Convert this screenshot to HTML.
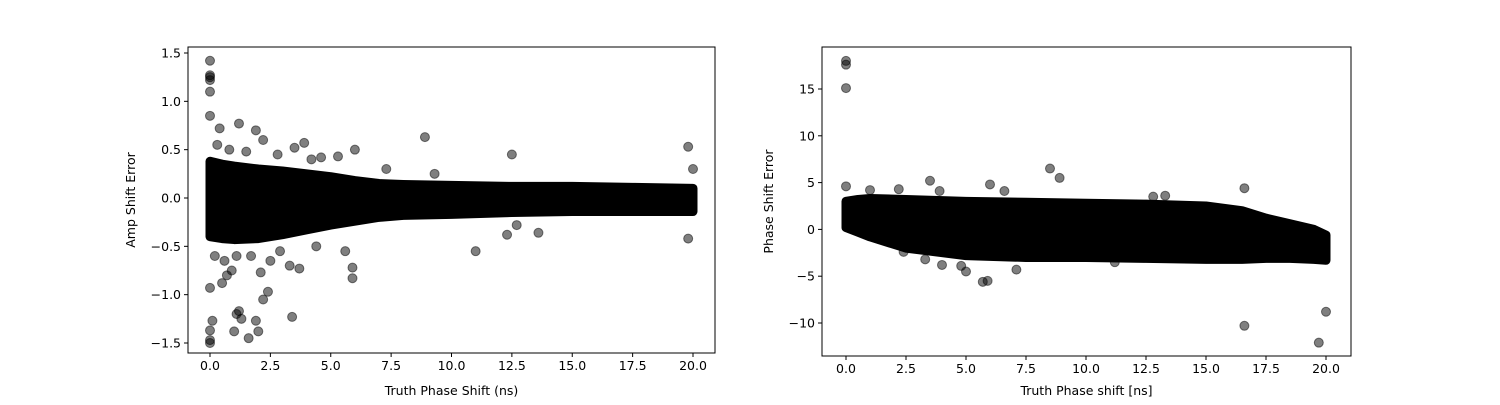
<!DOCTYPE html>
<html><head><meta charset="utf-8"><style>
html,body{margin:0;padding:0;background:#fff;}
svg text{font-family:"DejaVu Sans","Liberation Sans",sans-serif;font-size:12.5px;fill:#000;}
</style></head><body>
<svg id="fig" width="1500" height="400" xmlns="http://www.w3.org/2000/svg"></svg>
<script>
// ---------- Left chart data ----------
const leftXTicks = [0,2.5,5,7.5,10,12.5,15,17.5,20];
const leftXTickLabels = ["0.0","2.5","5.0","7.5","10.0","12.5","15.0","17.5","20.0"];
const leftYTicks = [-1.5,-1,-0.5,0,0.5,1,1.5];
const leftYTickLabels = ["−1.5","−1.0","−0.5","0.0","0.5","1.0","1.5"];
const leftBandX = [0,0.5,1,2,3,4,5,6,7,8,10,12.5,15,17.5,20];
const leftBandHi = [0.38,0.35,0.33,0.3,0.28,0.25,0.22,0.18,0.15,0.14,0.13,0.12,0.12,0.11,0.1];
const leftBandLo = [-0.4,-0.42,-0.43,-0.42,-0.38,-0.33,-0.28,-0.24,-0.2,-0.18,-0.17,-0.15,-0.14,-0.14,-0.14];
const leftOutX = [0,0,0,0,0,0,0.4,1.2,1.9,2.2,3.5,3.9,8.9,12.5,19.8,20,0,0.1,0,0,0,1.0,1.1,1.2,1.3,1.6,1.9,2.0,2.2,2.4,3.4,0.5,0.7,0.9,1.1,2.1,2.5,3.3,3.7,5.9,5.9,5.6,11,12.3,12.7,13.6,19.8,6.0,5.3,4.6,7.3,9.3,0.3,0.8,1.5,2.8,4.2,0.2,0.6,1.7,2.9,4.4];
const leftOutY = [1.42,1.27,1.25,1.22,1.1,0.85,0.72,0.77,0.7,0.6,0.52,0.57,0.63,0.45,0.53,0.3,-0.93,-1.27,-1.37,-1.47,-1.5,-1.38,-1.2,-1.17,-1.25,-1.45,-1.27,-1.38,-1.05,-0.97,-1.23,-0.88,-0.8,-0.75,-0.6,-0.77,-0.65,-0.7,-0.73,-0.72,-0.83,-0.55,-0.55,-0.38,-0.28,-0.36,-0.42,0.5,0.43,0.42,0.3,0.25,0.55,0.5,0.48,0.45,0.4,-0.6,-0.65,-0.6,-0.55,-0.5];

// ---------- Right chart data ----------
const rightXTicks = [0,2.5,5,7.5,10,12.5,15,17.5,20];
const rightXTickLabels = ["0.0","2.5","5.0","7.5","10.0","12.5","15.0","17.5","20.0"];
const rightYTicks = [-10,-5,0,5,10,15];
const rightYTickLabels = ["−10","−5","0","5","10","15"];
const rightBandX = [0,0.5,1,2.5,5,7.5,10,12.5,15,16.5,17.5,18.5,19.5,20];
const rightBandHi = [3,3.2,3.3,3.2,3,2.9,2.8,2.7,2.5,2,1.2,0.6,0,-0.6];
const rightBandLo = [0.2,-0.3,-0.8,-2,-2.8,-3,-3,-3.1,-3.2,-3.2,-3.1,-3.1,-3.2,-3.3];
const rightOutX = [0,0,0,0,1,2.2,3.5,3.9,6,6.6,8.5,8.9,16.6,16.6,19.7,20,5.7,5.9,5,4.8,4,7.1,3.3,2.4,12.8,13.3,11.2];
const rightOutY = [18,17.6,15.1,4.6,4.2,4.3,5.2,4.1,4.8,4.1,6.5,5.5,4.4,-10.3,-12.1,-8.8,-5.6,-5.5,-4.5,-3.9,-3.8,-4.3,-3.2,-2.4,3.5,3.6,-3.5];

const NS = "http://www.w3.org/2000/svg";
const svg = document.getElementById('fig');
function mk(tag, attrs, parent){const e=document.createElementNS(NS,tag);for(const k in attrs)e.setAttribute(k,attrs[k]);(parent||svg).appendChild(e);return e;}

function drawChart(o){
  const g = mk('g',{});
  
  
  const sx = v => o.x0px + (v - 0) * (o.x20px - o.x0px) / 20;
  const sy = v => o.yA.px + (v - o.yA.v) * (o.yB.px - o.yA.px) / (o.yB.v - o.yA.v);
  let pts = [];
  o.bx.forEach((x,i)=>pts.push(sx(x)+','+sy(o.bhi[i])));
  for(let i=o.bx.length-1;i>=0;i--) pts.push(sx(o.bx[i])+','+sy(o.blo[i]));
  const band = mk('polygon',{points:pts.join(' '),fill:'#000',stroke:'#000','stroke-width':9,'stroke-linejoin':'round'},g);
  
  
  o.ox.forEach((x,i)=>{
    const c = mk('circle',{cx:sx(x),cy:sy(o.oy[i]),r:4.5,fill:'#000','fill-opacity':0.5,stroke:'#000','stroke-opacity':0.5,'stroke-width':1},g);
    
    
  });
  const fr = mk('rect',{x:o.L,y:o.T,width:o.R-o.L,height:o.B-o.T,fill:'none',stroke:'#000','stroke-width':1},g);
  
  
  o.xt.forEach((t,i)=>{
    mk('line',{x1:sx(t),x2:sx(t),y1:o.B,y2:o.B+4,stroke:'#000'},g);
    const tx = mk('text',{x:sx(t),y:o.B+17,'text-anchor':'middle'},g);
    tx.textContent = o.xtl[i];
    
    
  });
  o.yt.forEach((t,i)=>{
    mk('line',{x1:o.L-4,x2:o.L,y1:sy(t),y2:sy(t),stroke:'#000'},g);
    const tx = mk('text',{x:o.L-7,y:sy(t)+4.5,'text-anchor':'end'},g);
    tx.textContent = o.ytl[i];
    
    
  });
  const xl = mk('text',{x:(o.L+o.R)/2,y:395,'text-anchor':'middle'},g);
  xl.textContent = o.xlabel;
  
  
  const yl = mk('text',{x:o.ylx,y:(o.T+o.B)/2,'text-anchor':'middle',transform:`rotate(-90 ${o.ylx} ${(o.T+o.B)/2})`},g);
  yl.textContent = o.ylabel;
  
  
}

drawChart({name:'amp-shift-error-chart',L:188,R:715,T:47,B:353,x0px:210,x20px:693,
  yA:{v:1.5,px:53},yB:{v:-1.5,px:343},
  bx:leftBandX,bhi:leftBandHi,blo:leftBandLo,ox:leftOutX,oy:leftOutY,
  xt:leftXTicks,xtl:leftXTickLabels,yt:leftYTicks,ytl:leftYTickLabels,
  xlabel:'Truth Phase Shift (ns)',ylabel:'Amp Shift Error',ylx:135});
drawChart({name:'phase-shift-error-chart',L:822,R:1351,T:47,B:356,x0px:846,x20px:1326,
  yA:{v:15,px:89},yB:{v:-10,px:323},
  bx:rightBandX,bhi:rightBandHi,blo:rightBandLo,ox:rightOutX,oy:rightOutY,
  xt:rightXTicks,xtl:rightXTickLabels,yt:rightYTicks,ytl:rightYTickLabels,
  xlabel:'Truth Phase shift [ns]',ylabel:'Phase Shift Error',ylx:773});
</script>
</body></html>
